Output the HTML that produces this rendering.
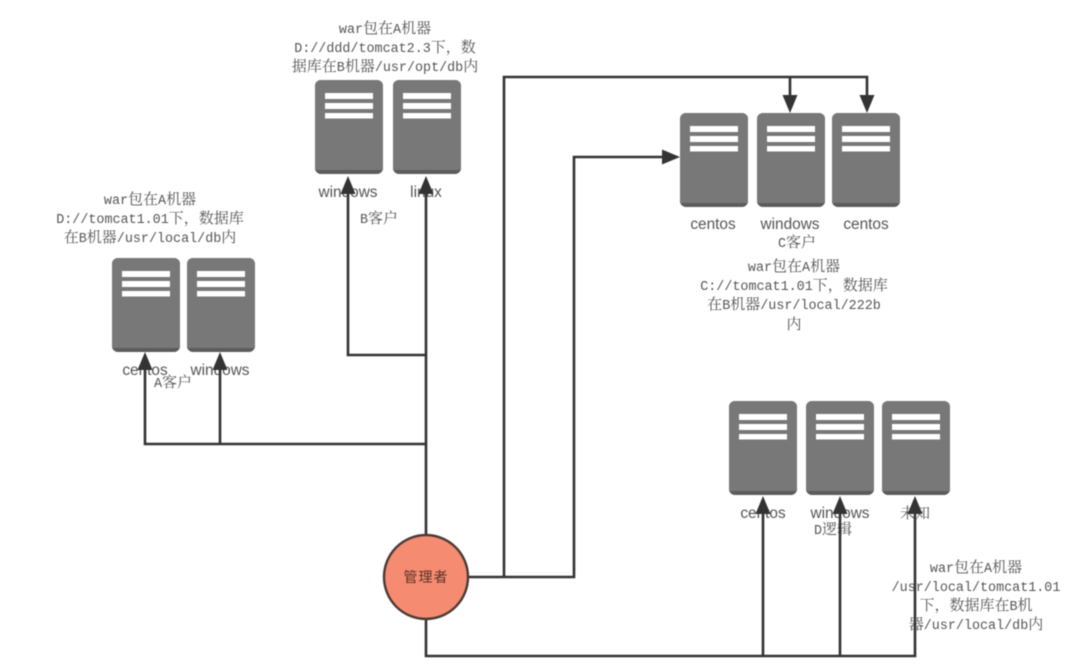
<!DOCTYPE html>
<html><head><meta charset="utf-8"><style>
html,body{margin:0;padding:0;background:#fff;width:1080px;height:667px;overflow:hidden}
svg{display:block;filter:blur(0.5px)}
.t{font-family:"Liberation Mono","Noto Serif CJK SC",monospace;font-size:13.4px;fill:#555;text-anchor:middle}
.t tspan{font-size:15px}
.l{font-family:"Liberation Sans",sans-serif;font-size:15.4px;fill:#555;text-anchor:middle}
.w{fill:none;stroke:#333;stroke-width:2.6}
.a{fill:#333}
</style></head><body>
<svg width="1080" height="667" viewBox="0 0 1080 667" xmlns="http://www.w3.org/2000/svg">
<defs>
<g id="s">
<rect x="0" y="0" width="68" height="94" rx="6" fill="#5c5c5c"/>
<path d="M0 6a6 6 0 0 1 6-6h56a6 6 0 0 1 6 6v84h-68z" fill="#787878"/>
<rect x="10" y="13" width="48" height="6" fill="#fff"/>
<rect x="10" y="23" width="48" height="6" fill="#fff"/>
<rect x="10" y="33" width="48" height="5.5" fill="#fff"/>
</g>
</defs>
<use href="#s" x="315" y="80"/><use href="#s" x="393" y="80"/>
<use href="#s" x="112" y="258"/><use href="#s" x="187" y="258"/>
<use href="#s" x="680" y="113"/><use href="#s" x="757" y="113"/><use href="#s" x="832" y="113"/>
<use href="#s" x="729" y="401"/><use href="#s" x="806" y="401"/><use href="#s" x="882" y="401"/>

<text class="l" x="348" y="197">windows</text><text class="l" x="426" y="197">linux</text>
<text class="l" x="145" y="375">centos</text><text class="l" x="220" y="375">windows</text>
<text class="l" x="713" y="229">centos</text><text class="l" x="790" y="229">windows</text><text class="l" x="866" y="229">centos</text>
<text class="l" x="763" y="518">centos</text><text class="l" x="840" y="518">windows</text>
<text class="t" x="915" y="518"><tspan>未知</tspan></text>

<text class="t" x="385" y="33">war<tspan>包在</tspan>A<tspan>机器</tspan></text>
<text class="t" x="385" y="52">D://ddd/tomcat2.3<tspan>下，数</tspan></text>
<text class="t" x="385" y="71"><tspan>据库在</tspan>B<tspan>机器</tspan>/usr/opt/db<tspan>内</tspan></text>
<text class="t" x="379" y="223">B<tspan>客户</tspan></text>

<text class="t" x="150" y="204">war<tspan>包在</tspan>A<tspan>机器</tspan></text>
<text class="t" x="150" y="223">D://tomcat1.01<tspan>下，数据库</tspan></text>
<text class="t" x="150" y="242"><tspan>在</tspan>B<tspan>机器</tspan>/usr/local/db<tspan>内</tspan></text>
<text class="t" x="173" y="387">A<tspan>客户</tspan></text>

<text class="t" x="797" y="247">C<tspan>客户</tspan></text>
<text class="t" x="794" y="271">war<tspan>包在</tspan>A<tspan>机器</tspan></text>
<text class="t" x="794" y="290">C://tomcat1.01<tspan>下，数据库</tspan></text>
<text class="t" x="794" y="309"><tspan>在</tspan>B<tspan>机器</tspan>/usr/local/222b</text>
<text class="t" x="794" y="329"><tspan>内</tspan></text>

<text class="t" x="833" y="534">D<tspan>逻辑</tspan></text>
<text class="t" x="976" y="572">war<tspan>包在</tspan>A<tspan>机器</tspan></text>
<text class="t" x="976" y="591">/usr/local/tomcat1.01</text>
<text class="t" x="976" y="610"><tspan>下，数据库在</tspan>B<tspan>机</tspan></text>
<text class="t" x="976" y="629"><tspan>器</tspan>/usr/local/db<tspan>内</tspan></text>

<path class="w" d="M426 536V190M426 355H348V190M426 444H145V365M220 444V365"/>
<path class="w" d="M468 577H574V157H665M504 577V77H867V95M790 77V95"/>
<path class="w" d="M426 619V656H915V510M763 656V510M840 656V510"/>

<path class="a" d="M348 176l-7.5 18h15zM426 176l-7.5 18h15zM145 352l-7.5 18h15zM220 352l-7.5 18h15z"/>
<path class="a" d="M790 113l-7.5-18h15zM867 113l-7.5-18h15zM680 157l-18-7.5v15z"/>
<path class="a" d="M763 496l-7.5 18h15zM840 496l-7.5 18h15zM915 496l-7.5 18h15z"/>

<circle cx="426" cy="577" r="42" fill="#f58b70" stroke="#4a3a36" stroke-width="2.4"/>
<text x="426" y="582" text-anchor="middle" font-family="'Noto Sans CJK SC',sans-serif" font-size="14" letter-spacing="1" fill="#5b3028">管理者</text>
</svg>
</body></html>
